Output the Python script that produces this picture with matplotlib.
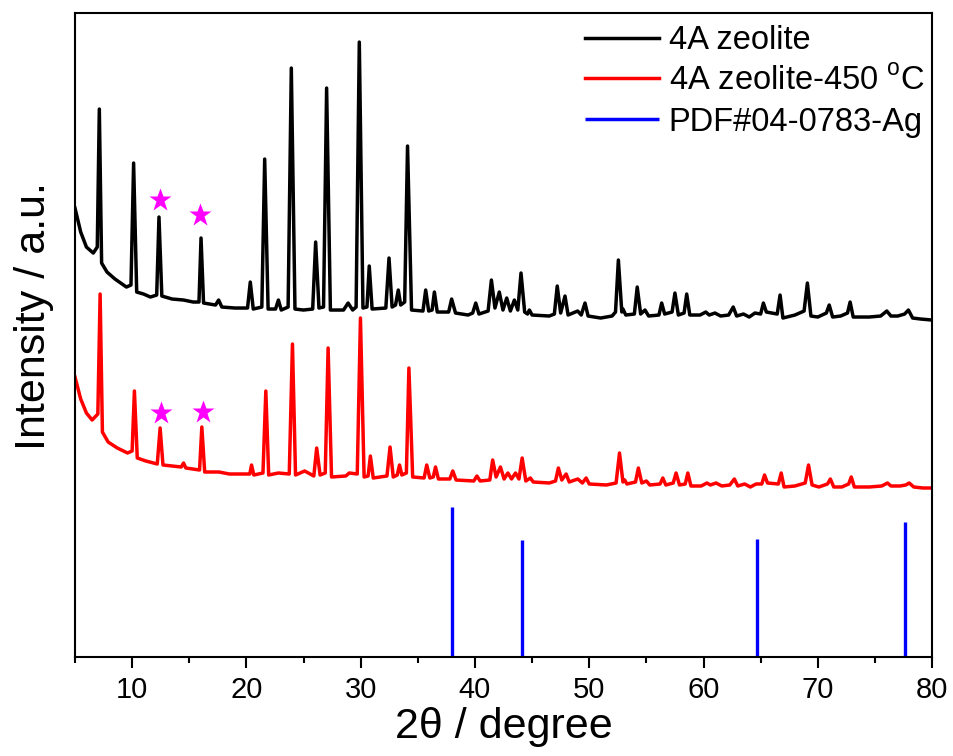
import numpy as np
import matplotlib
matplotlib.use("Agg")
import matplotlib.pyplot as plt
from matplotlib.ticker import MultipleLocator

plt.rcParams["font.family"] = ["Liberation Sans", "DejaVu Sans"]
plt.rcParams["mathtext.fontset"] = "custom"
plt.rcParams["mathtext.rm"] = "Liberation Sans"

# 4A zeolite: peak tops and the baseline points between them
black_peak_2theta = [7.13, 10.13, 12.35, 16.03, 17.57, 20.34, 21.6, 22.8, 23.93, 26.06,
                     27.02, 28.9, 29.88, 30.75, 32.48, 33.29, 34.1, 35.69, 36.45, 37.96,
                     40.07, 41.44, 42.13, 42.78, 43.45, 44.03, 47.2, 47.88, 49.63, 52.55,
                     54.2, 56.34, 57.5, 58.53, 62.6, 65.24, 66.7, 69.09, 71.0, 72.83,
                     76.04, 77.93]
black_peak_top = [548, 494, 440, 419, 357, 375, 498, 357, 589, 415,
                  569, 354, 615, 391, 399, 367, 511, 367, 365, 358,
                  354, 377, 365, 359, 357, 384, 371, 361, 354, 397,
                  370, 354, 364, 363, 350, 354, 362, 374, 352, 355,
                  346, 347]
black_base_2theta = [5.0, 5.5, 6.0, 6.6, 6.95, 7.33, 7.8, 8.5, 9.5, 9.9,
                     10.4, 11.0, 11.6, 12.15, 12.6, 13.5, 14.5, 15.35, 15.85, 16.25,
                     17.3, 17.85, 19.0, 20.1, 20.6, 21.35, 21.9, 22.55, 23.05, 23.65,
                     24.25, 25.0, 25.8, 26.35, 26.75, 27.35, 28.5, 29.3, 29.6, 30.2,
                     30.55, 31.0, 32.2, 32.75, 33.05, 33.5, 33.85, 34.45, 35.45, 35.95,
                     36.25, 36.7, 37.7, 38.3, 39.4, 39.8, 40.35, 41.15, 41.75, 42.45,
                     43.1, 43.75, 44.35, 44.6, 44.76, 45.0, 46.5, 46.95, 47.5, 48.15,
                     48.99, 49.3, 49.9, 51.0, 52.0, 52.3, 52.85, 52.95, 53.2, 53.95,
                     54.5, 54.88, 55.2, 56.1, 56.6, 57.25, 57.8, 58.3, 58.8, 59.7,
                     60.2, 60.5, 61.0, 61.5, 62.2, 62.9, 63.5, 64.0, 64.5, 65.0,
                     65.5, 66.45, 66.95, 68.0, 68.8, 69.4, 70.0, 70.75, 71.3, 72.0,
                     72.6, 73.1, 74.5, 75.5, 76.4, 77.0, 77.6, 78.3, 79.0, 80.0]
black_base_level = [449, 425, 410, 404, 410, 394, 385, 378, 370, 372,
                    365, 363, 360, 362, 361, 358, 357, 355, 355, 354,
                    352, 350, 349, 349, 348, 350, 348, 348, 347, 350,
                    348, 347, 348, 349, 350, 347, 347, 347, 350, 349,
                    350, 348, 349, 350, 352, 352, 355, 347, 346, 346,
                    347, 345, 345, 344, 342, 344, 343, 346, 349, 347,
                    346, 347, 345, 343, 347, 342, 341, 343, 344, 342,
                    346, 342, 341, 339, 341, 345, 345, 348, 342, 343,
                    343, 347, 341, 342, 343, 345, 342, 344, 342, 342,
                    345, 342, 344, 341, 342, 341, 343, 340, 344, 343,
                    345, 343, 339, 342, 346, 341, 340, 344, 340, 341,
                    344, 340, 340, 341, 341, 341, 343, 339, 338, 337]

# 4A zeolite after 450 C
red_peak_2theta = [7.2, 10.2, 12.45, 16.1, 20.45, 21.7, 24.03, 26.15, 27.15, 29.98,
                   30.85, 32.57, 33.4, 34.22, 35.78, 36.55, 38.06, 40.17, 41.55, 42.23,
                   42.88, 43.55, 44.13, 47.3, 47.98, 49.73, 52.65, 54.3, 56.44, 57.6,
                   58.63, 62.7, 65.34, 66.8, 69.19, 71.1, 72.93, 76.1, 78.0]
red_peak_top = [363, 266, 229, 230, 192, 266, 313, 209, 309, 339,
                201, 210, 192, 289, 192, 190, 186, 181, 197, 190,
                184, 184, 199, 189, 183, 179, 204, 189, 179, 184,
                184, 178, 182, 184, 192, 178, 180, 174, 174]
red_base_2theta = [5.0, 5.5, 6.0, 6.5, 7.0, 7.4, 7.9, 8.7, 9.6, 10.0,
                   10.45, 11.2, 12.2, 12.7, 13.5, 14.3, 14.5, 14.7, 15.9, 16.35,
                   17.6, 18.5, 20.3, 20.65, 21.45, 21.95, 22.8, 23.75, 24.3, 25.1,
                   25.9, 26.45, 26.9, 27.45, 28.7, 29.0, 29.7, 30.3, 30.65, 31.1,
                   32.3, 32.85, 33.2, 33.6, 34.0, 34.55, 35.55, 36.05, 36.35, 36.8,
                   37.8, 38.35, 39.9, 40.45, 41.3, 41.85, 42.55, 43.2, 43.85, 44.45,
                   44.85, 45.1, 46.5, 47.05, 47.6, 48.25, 49.0, 49.4, 50.0, 51.5,
                   52.35, 52.95, 53.1, 53.3, 54.05, 54.6, 55.0, 55.3, 56.2, 56.7,
                   57.35, 57.9, 58.4, 58.9, 59.8, 60.3, 60.6, 61.1, 61.6, 62.3,
                   63.0, 63.6, 64.1, 64.6, 65.1, 65.6, 66.55, 67.05, 68.0, 68.9,
                   69.5, 70.1, 70.85, 71.4, 72.1, 72.7, 73.2, 74.5, 75.6, 76.4,
                   77.2, 77.7, 78.4, 79.2, 80.0]
red_base_level = [280, 258, 244, 237, 243, 225, 215, 209, 204, 206,
                  199, 196, 193, 192, 191, 190, 194, 189, 187, 185,
                  185, 183, 183, 182, 184, 182, 184, 183, 182, 186,
                  181, 182, 184, 180, 181, 184, 183, 180, 181, 179,
                  181, 180, 182, 182, 184, 180, 179, 179, 180, 178,
                  178, 177, 176, 176, 177, 180, 178, 178, 178, 176,
                  179, 175, 174, 176, 177, 175, 178, 174, 173, 172,
                  174, 175, 177, 173, 175, 174, 176, 172, 173, 172,
                  174, 172, 173, 171, 171, 174, 172, 174, 171, 172,
                  171, 173, 170, 173, 173, 174, 173, 170, 171, 174,
                  172, 170, 173, 170, 170, 173, 170, 170, 171, 171,
                  171, 172, 170, 169, 169]

# PDF#04-0783 (Ag) reference lines
ag_2theta = [38.0, 44.1, 64.7, 77.6]
ag_height = [150, 117, 118, 135]

# star marks over the extra reflections
black_star_2theta = [12.44, 15.94]
black_star_level = [457, 442]
red_star_2theta = [12.5, 16.17]
red_star_level = [244, 245]


def pattern(peak_x, peak_y, base_x, base_y):
    x = np.concatenate([peak_x, base_x])
    y = np.concatenate([peak_y, base_y])
    order = np.argsort(x)
    return x[order], y[order]


fig = plt.figure(figsize=(9.54, 7.56), dpi=100)
ax = fig.add_axes([0.0786, 0.131, 0.8984, 0.8517])

bx, by = pattern(black_peak_2theta, black_peak_top, black_base_2theta, black_base_level)
rx, ry = pattern(red_peak_2theta, red_peak_top, red_base_2theta, red_base_level)

ax.plot(bx, by, color="black", lw=2.5, solid_joinstyle="round", label="4A zeolite")
ax.plot(rx, ry, color="red", lw=2.5, solid_joinstyle="round", label=r"4A zeolite-450 $^{\mathrm{o}}$C")
ax.vlines(ag_2theta, 0, ag_height, color="blue", lw=2.4, label="PDF#04-0783-Ag")

ax.plot(black_star_2theta, black_star_level, ls="none", marker="*", ms=17, color="magenta", mec="none")
ax.plot(red_star_2theta, red_star_level, ls="none", marker="*", ms=17, color="magenta", mec="none")

ax.set_xlim(5, 80)
ax.set_ylim(0, 644)
ax.xaxis.set_major_locator(MultipleLocator(10))
ax.xaxis.set_minor_locator(MultipleLocator(5))
ax.set_yticks([])
ax.tick_params(axis="x", which="major", direction="out", length=8, width=1.5, labelsize=21, pad=6)
ax.tick_params(axis="x", which="minor", direction="out", length=4.5, width=1.5)
for s in ax.spines.values():
    s.set_linewidth(1.5)

ax.set_xlabel("2θ / degree", fontsize=31, labelpad=2)
ax.set_ylabel("Intensity / a.u.", fontsize=31)
ax.yaxis.set_label_coords(-0.024, 0.53)

leg = ax.legend(loc="upper right", bbox_to_anchor=(1.014, 1.012), frameon=False,
                prop={"family": "Liberation Sans", "size": 23.5}, handlelength=2.25,
                handletextpad=0.3, labelspacing=0.3, borderaxespad=0.2)
for line in leg.get_lines():
    line.set_linewidth(2.5)

fig.savefig("out.png", dpi=100)
